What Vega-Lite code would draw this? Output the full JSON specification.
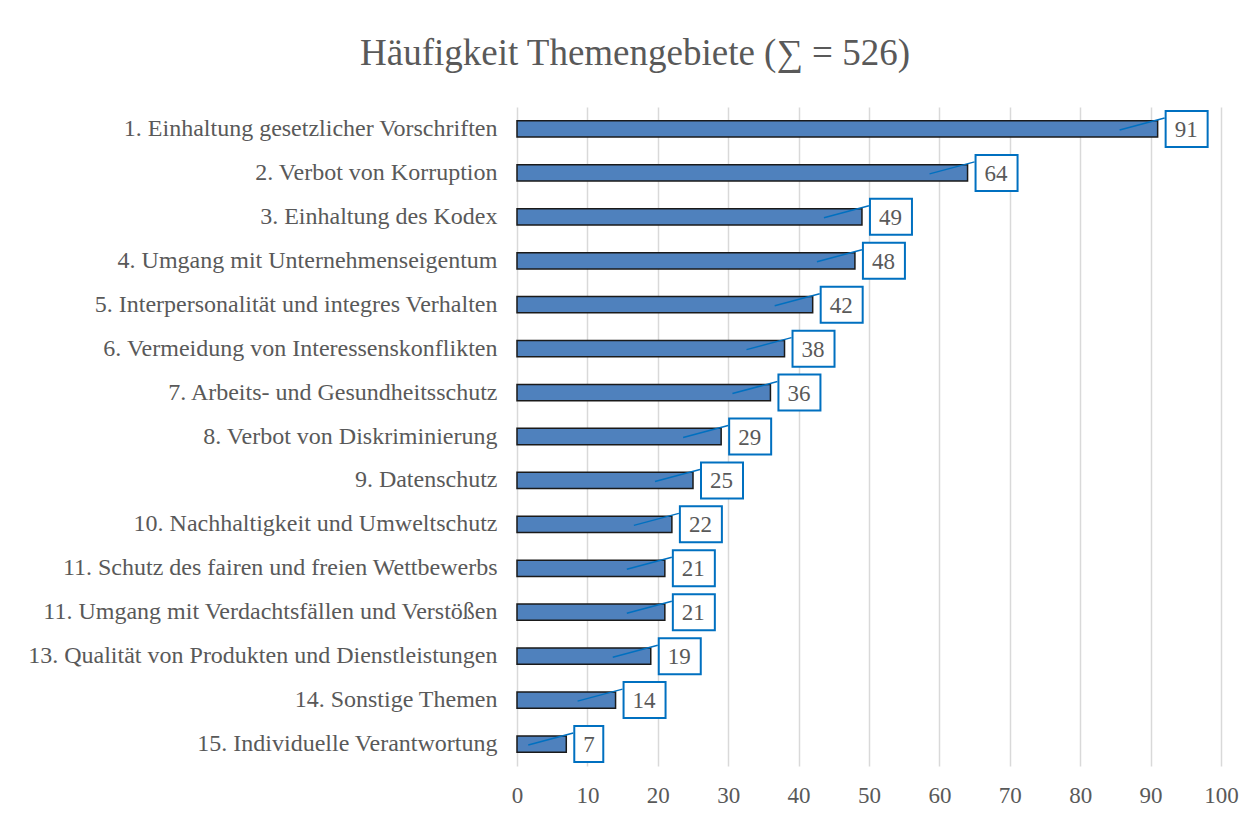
{
  "$schema": "https://vega.github.io/schema/vega-lite/v6.json",
  "autosize": "none",
  "width": 704,
  "height": 659,
  "padding": {"left": 517, "top": 107, "right": 32, "bottom": 50},
  "background": "white",
  "config": {"view": {"stroke": null}, "font": "Liberation Serif"},
  "title": {
    "text": "Häufigkeit Themengebiete (∑ = 526)",
    "font": "Liberation Serif",
    "fontSize": 37,
    "fontWeight": "normal",
    "color": "#595959",
    "anchor": "middle",
    "dx": -234,
    "offset": 34
  },
  "data": {
    "values": [
      {"Thema": "1. Einhaltung gesetzlicher Vorschriften", "Anzahl": 91},
      {"Thema": "2. Verbot von Korruption", "Anzahl": 64},
      {"Thema": "3. Einhaltung des Kodex", "Anzahl": 49},
      {"Thema": "4. Umgang mit Unternehmenseigentum", "Anzahl": 48},
      {"Thema": "5. Interpersonalität und integres Verhalten", "Anzahl": 42},
      {"Thema": "6. Vermeidung von Interessenskonflikten", "Anzahl": 38},
      {"Thema": "7. Arbeits- und Gesundheitsschutz", "Anzahl": 36},
      {"Thema": "8. Verbot von Diskriminierung", "Anzahl": 29},
      {"Thema": "9. Datenschutz", "Anzahl": 25},
      {"Thema": "10. Nachhaltigkeit und Umweltschutz", "Anzahl": 22},
      {"Thema": "11. Schutz des fairen und freien Wettbewerbs", "Anzahl": 21},
      {"Thema": "11. Umgang mit Verdachtsfällen und Verstößen", "Anzahl": 21},
      {"Thema": "13. Qualität von Produkten und Dienstleistungen", "Anzahl": 19},
      {"Thema": "14. Sonstige Themen", "Anzahl": 14},
      {"Thema": "15. Individuelle Verantwortung", "Anzahl": 7}
    ]
  },
  "encoding": {
    "y": {
      "field": "Thema",
      "type": "nominal",
      "sort": null,
      "scale": {"paddingInner": 0.63, "paddingOuter": 0.315},
      "axis": {
        "title": null,
        "domain": false,
        "ticks": false,
        "labelFont": "Liberation Serif",
        "labelFontSize": 24,
        "labelColor": "#595959",
        "labelPadding": 20,
        "labelLimit": 600
      }
    }
  },
  "layer": [
    {
      "mark": {"type": "bar", "fill": "#4f81bd", "stroke": "#1a1a1a", "strokeWidth": 1.5},
      "encoding": {
        "x": {
          "field": "Anzahl",
          "type": "quantitative",
          "scale": {"domain": [0, 100], "nice": false},
          "axis": {
            "title": null,
            "values": [0, 10, 20, 30, 40, 50, 60, 70, 80, 90, 100],
            "domain": false,
            "ticks": false,
            "grid": true,
            "gridColor": "#d9d9d9",
            "gridWidth": 1.5,
            "labelFlush": false,
            "labelFont": "Liberation Serif",
            "labelFontSize": 23,
            "labelColor": "#595959",
            "labelPadding": 18
          }
        }
      }
    },
    {
      "mark": {"type": "rule", "stroke": "#0070c0", "strokeWidth": 1.5, "xOffset": -38, "x2Offset": 7, "yOffset": 1, "y2Offset": -11},
      "encoding": {
        "x": {"field": "Anzahl", "type": "quantitative"},
        "x2": {"field": "Anzahl"},
        "y2": {"field": "Thema"}
      }
    },
    {
      "transform": [{"filter": "datum.Anzahl >= 10"}],
      "mark": {"type": "bar", "fill": "white", "stroke": "#0070c0", "strokeWidth": 2, "height": 36, "xOffset": 8, "x2Offset": 50},
      "encoding": {
        "x": {"field": "Anzahl", "type": "quantitative"},
        "x2": {"field": "Anzahl"}
      }
    },
    {
      "transform": [{"filter": "datum.Anzahl < 10"}],
      "mark": {"type": "bar", "fill": "white", "stroke": "#0070c0", "strokeWidth": 2, "height": 36, "xOffset": 8, "x2Offset": 37},
      "encoding": {
        "x": {"field": "Anzahl", "type": "quantitative"},
        "x2": {"field": "Anzahl"}
      }
    },
    {
      "mark": {"type": "text", "align": "left", "baseline": "middle", "font": "Liberation Serif", "fontSize": 23, "fill": "#595959", "dx": 17, "dy": 1},
      "encoding": {
        "x": {"field": "Anzahl", "type": "quantitative"},
        "text": {"field": "Anzahl", "type": "quantitative"}
      }
    }
  ]
}
